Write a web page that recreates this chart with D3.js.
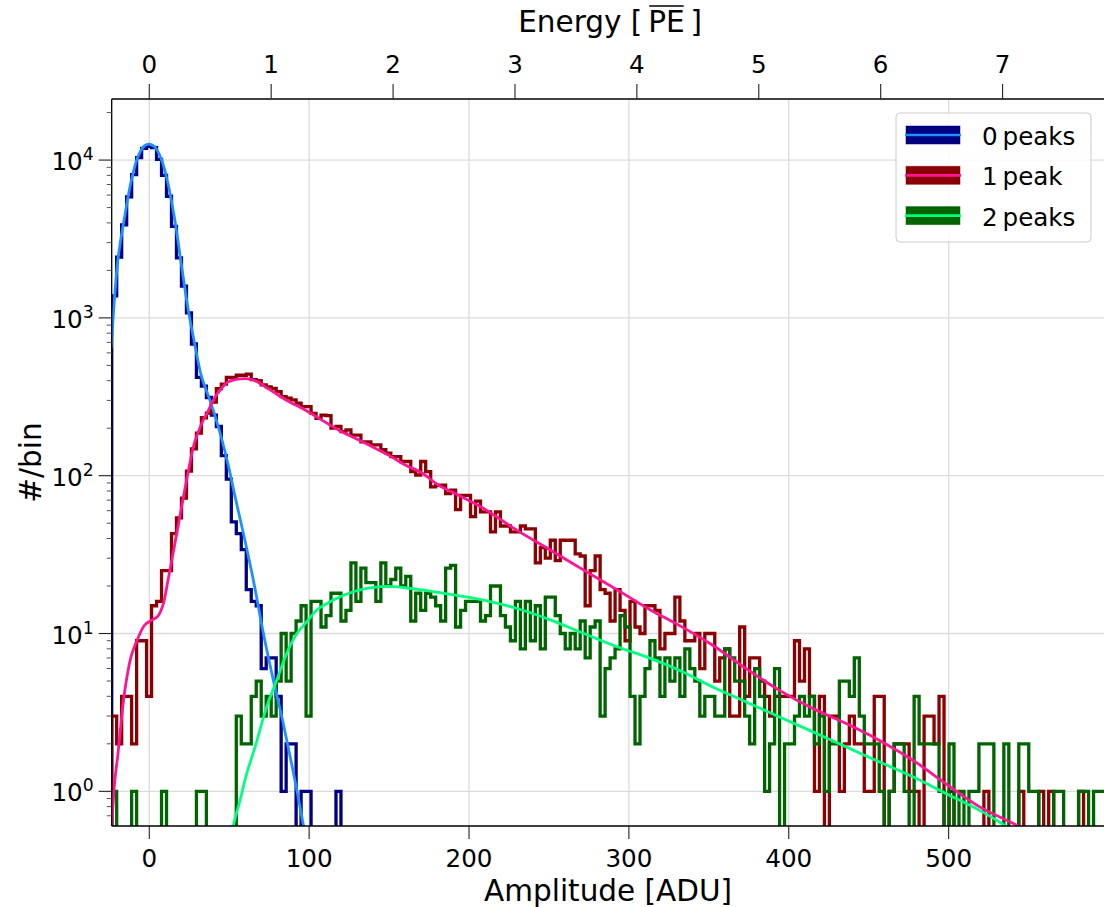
<!DOCTYPE html>
<html><head><meta charset="utf-8">
<script src="https://cdn.jsdelivr.net/npm/d3@7"></script>
<style>
body{margin:0;background:#fff}
svg{display:block}
text{font-family:"DejaVu Sans",sans-serif;fill:#000}
</style>
</head><body>
<svg id="chart" width="1104" height="907"></svg>
<script>
// ---------- data ----------
const xRange = [-23.5, 600];          // ADU, histogram range
const nBins = 200;
const aduPerPE = 76.25;               // calibration for top axis
const yRange = [0.603, 24380];

const blueCounts = [1380,2430,3880,5850,8090,10370,11870,12200,12000,10100,8000,5900,3800,2400,1590,1077,683,420,369,313,242,205,134,95,51,43,34,19,16,15,6,7,7,4,1,2,2,0,1,1,0,0,0,0,0,1].concat(new Array(154).fill(0));

const redCounts = [3,2,4,4,2,9,9,4,15,16,25,25,43,54,72,107,148,186,233,249,293,356,380,419,419,433,433,440,406,400,
376,366,357,341,317,310,302,288,274,274,248,231,242,240,200,205,190,195,181,181,164,164,157,157,146,139,132,132,123,123,106,101,123,106,85,87,87,77,
81,61,75,75,55,69,59,59,44,59,48,48,44,44,48,46,46,28,35,30,39,29,39,39,39,32,31,15,25,31,19,18,12,19,14,9,16,11,10,
15,15,14,8,10,10,17,12,9,9,10,6,10,10,5,7,8,3,3,11,4,7,7,5,4,3,4,4,4,4,9,5,8,4,1,4,0,3,3,1,
2,3,2,2,1,1,4,4,0,1,2,2,2,1,1,0,3,3,2,4,0,1,0,0,0,0,0,0,1,0,0,0,0,0,0,1,0,0,0,1,0,1,0,0,0,0,0,1,0,0,0,0,0];

const greenCounts = [1,0,0,0,1,0,0,0,0,0,1,0,0,0,0,0,0,1,1,0,0,0,0,0,0,3,2,2,4,5,3,4,3,5,10,5,10,12,15,3,16,16,11,13,18,18,12,14,28,16,26,21,21,16,28,20,22,26,20,23,12,18,14,18,17,15,12,26,27,11,14,16,16,16,12,13,20,20,13,11,9,16,8,16,9,15,8,17,17,13,10,8,10,8,12,7,11,12,3,6,7,8,13,11,4,2,4,6,9,7,4,7,5,7,4,8,6,5,3,4,4,3,3,8,7,5,5,3,2,6,4,1,2,6,0,2,2,3,4,3,4,2,3,1,2,2,5,5,4,7,3,2,2,2,1,0,1,2,2,1,0,4,2,2,2,2,1,0,2,0,1,0,1,1,2,2,2,0,0,2,0,0,2,2,1,1,0,0,0,1,1,0,0,0,1,1,0,1,1,1];

// fit curves: [ADU, counts]
const blueFit = [[-23.8,640],[-19.6,2350],[-15.4,4370],[-11.3,7350],[-7.1,10500],[-2.9,12360],[0.25,12600],[3.4,12130],[7.5,10160],[11.7,7110],[15.9,4220],[20.0,2200],[24.2,1150],[28.4,684],[32.6,428],[36.8,324],[41.0,242],[45.1,174],[49.3,118],[53.5,75],[58.9,43],[65.1,21.8],[71.4,10],[77.6,5.07],[82.9,2.97],[88.1,1.66],[92.3,1.02],[96.4,0.61],[99,0.45]];
const redFit = [[-23.5,0.61],[-21.5,1.18],[-19.6,1.72],[-18.3,2.33],[-15.4,4.28],[-11.3,7.18],[-7.1,9.33],[-2.9,11.3],[1.3,12.1],[5.4,12.9],[8.6,15.2],[11.7,21.7],[15.9,36.6],[20.0,61.5],[24.2,104],[28.4,163],[32.6,212],[36.8,257],[41.0,313],[45.1,357],[49.3,393],[53.5,406],[57.6,411],[61.8,411],[66.0,401],[71.0,375],[76.6,345],[87.0,296],[97.5,261],[108.0,225],[118.3,195],[128.8,173],[139.3,153],[149.7,135],[160.1,117],[170.6,104],[181.0,87],[191.4,77],[209.1,62],[230.1,45],[250.9,33.8],[271.8,25.2],[292.7,18.9],[313.5,14.1],[331.2,11.3],[352.2,8.46],[373.0,6.02],[393.9,4.38],[414.8,3.36],[435.6,2.70],[456.5,2.11],[477.4,1.58],[498.2,1.12],[519.1,0.80],[544.1,0.60],[550,0.55]];
const greenFit = [[50,0.45],[52.6,0.61],[56.8,0.88],[61.0,1.30],[66.2,1.91],[73.5,3.44],[79.8,5.07],[86.0,7.49],[92.3,10.0],[98.6,11.9],[104.8,14.1],[111.1,15.5],[119.4,17.1],[127.7,18.4],[136.1,19.3],[144.5,19.8],[152.8,19.8],[160.1,19.5],[170.6,18.9],[181.0,18.2],[191.4,17.5],[209.1,16.3],[230.1,14.4],[250.9,12.2],[271.8,10.0],[292.7,8.24],[313.5,6.96],[331.2,5.87],[352.2,4.60],[373.0,3.70],[393.9,2.97],[414.8,2.39],[435.6,1.92],[456.5,1.54],[477.4,1.24],[498.2,0.97],[519.1,0.76],[534.8,0.61],[540,0.55]];

const xTicks = [0,100,200,300,400,500];
const peTicks = [0,1,2,3,4,5,6,7];
const yTicks = [1,10,100,1000,10000];
const yTickLabels = ["0","1","2","3","4"];
const legendLabels = ["0\u2009peaks","1\u2009peak","2\u2009peaks"];
const histColors = ["#000080","#8b0000","#006400"];
const fitColors = ["#1e90ff","#ff1493","#00ff7f"];

// ---------- layout ----------
const svg = d3.select("#chart");
const L = 111.7, R = 1108.5, T = 99, B = 826;
const x = d3.scaleLinear().domain(xRange).range([L, R]);
const xPE = d3.scaleLinear().domain([xRange[0]/aduPerPE, xRange[1]/aduPerPE]).range([L, R]);
const y = d3.scaleLog().domain(yRange).range([B, T]);

svg.append("defs").append("clipPath").attr("id","clip")
  .append("rect").attr("x",L).attr("y",T).attr("width",R-L).attr("height",B-T);

// grid
const grid = svg.append("g").attr("stroke","#dcdcdc").attr("stroke-width",1.3);
xTicks.forEach(t=>grid.append("line").attr("x1",x(t)).attr("x2",x(t)).attr("y1",T).attr("y2",B));
yTicks.forEach(t=>grid.append("line").attr("x1",L).attr("x2",R).attr("y1",y(t)).attr("y2",y(t)));

// histograms
const binW = (xRange[1]-xRange[0])/nBins;
function stepPoints(counts){
  const pts=[]; const floor=0.05;
  pts.push([xRange[0], floor]);
  counts.forEach((c,i)=>{
    const v = c>0?c:floor;
    pts.push([xRange[0]+i*binW, v]);
    pts.push([xRange[0]+(i+1)*binW, v]);
  });
  pts.push([xRange[1], floor]);
  return pts;
}
const stepLine = d3.line().x(d=>x(d[0])).y(d=>y(d[1]));
const plot = svg.append("g").attr("clip-path","url(#clip)");
[blueCounts, redCounts, greenCounts].forEach((c,k)=>{
  plot.append("path").attr("d", stepLine(stepPoints(c)))
    .attr("fill","none").attr("stroke",histColors[k]).attr("stroke-width",3.3)
    .attr("stroke-linejoin","miter");
});
const fitLine = d3.line().x(d=>x(d[0])).y(d=>y(d[1])).curve(d3.curveCatmullRom.alpha(0.5));
[blueFit, redFit, greenFit].forEach((f,k)=>{
  plot.append("path").attr("d", fitLine(f))
    .attr("fill","none").attr("stroke",fitColors[k]).attr("stroke-width",2.8);
});

// spines
const sp = svg.append("g").attr("stroke","#000").attr("stroke-width",1.3);
sp.append("line").attr("x1",L).attr("x2",L).attr("y1",T).attr("y2",B);
sp.append("line").attr("x1",L).attr("x2",R).attr("y1",B).attr("y2",B);
sp.append("line").attr("x1",L).attr("x2",R).attr("y1",T).attr("y2",T);

// bottom axis
const ax = svg.append("g");
xTicks.forEach(t=>{
  ax.append("line").attr("x1",x(t)).attr("x2",x(t)).attr("y1",B).attr("y2",B+13).attr("stroke","#222").attr("stroke-width",1.1);
  ax.append("text").attr("x",x(t)).attr("y",866.5).attr("text-anchor","middle").attr("font-size",24.6).text(t);
});
ax.append("text").attr("x",(L+R)/2-2).attr("y",901).attr("text-anchor","middle").attr("font-size",29.5).text("Amplitude [ADU]");

// top axis
peTicks.forEach(t=>{
  ax.append("line").attr("x1",xPE(t)).attr("x2",xPE(t)).attr("y1",T).attr("y2",T-15).attr("stroke","#222").attr("stroke-width",1.1);
  ax.append("text").attr("x",xPE(t)).attr("y",73.3).attr("text-anchor","middle").attr("font-size",24.6).text(t);
});
const title = ax.append("text").attr("x",(L+R)/2).attr("y",32.3).attr("text-anchor","middle").attr("font-size",29.5);
title.append("tspan").text("Energy [\u2009");
title.append("tspan").text("PE");
title.append("tspan").text("\u2009]");
// overline over PE
(function(){
  const el = title.node();
  const full = "Energy [\u2009";
  const i0 = full.length;
  const x0 = el.getStartPositionOfChar(i0).x;
  const x1 = el.getEndPositionOfChar(i0+1).x;
  ax.append("line").attr("x1",x0+1).attr("x2",x1-1).attr("y1",6).attr("y2",6).attr("stroke","#000").attr("stroke-width",1.6);
})();

// left axis
yTicks.forEach((t,k)=>{
  ax.append("line").attr("x1",L).attr("x2",L-13).attr("y1",y(t)).attr("y2",y(t)).attr("stroke","#222").attr("stroke-width",1.1);
  const tx = ax.append("text").attr("x",L-18).attr("y",y(t)+10).attr("text-anchor","end").attr("font-size",24.6);
  tx.append("tspan").text("10");
  tx.append("tspan").attr("font-size",17.2).attr("dy",-10).text(yTickLabels[k]);
});
for(let e=-1;e<=4;e++){
  for(let m=2;m<=9;m++){
    const v=m*Math.pow(10,e);
    if(v<yRange[0]||v>yRange[1]) continue;
    ax.append("line").attr("x1",L).attr("x2",L-5).attr("y1",y(v)).attr("y2",y(v)).attr("stroke","#555").attr("stroke-width",1);
  }
}
ax.append("text").attr("transform",`translate(41,${(T+B)/2}) rotate(-90)`).attr("text-anchor","middle").attr("font-size",29.5).text("#/bin");

// legend
const lg = svg.append("g");
lg.append("rect").attr("x",896).attr("y",113).attr("width",195).attr("height",129).attr("rx",4)
  .attr("fill","#fff").attr("fill-opacity",0.85).attr("stroke","#cccccc").attr("stroke-width",1);
legendLabels.forEach((lab,k)=>{
  const yy = 126 + k*40.3;
  lg.append("rect").attr("x",906).attr("y",yy).attr("width",54).attr("height",18)
    .attr("fill",histColors[k]).attr("stroke",histColors[k]).attr("stroke-opacity",0.5).attr("stroke-width",1);
  lg.append("line").attr("x1",905).attr("x2",961).attr("y1",yy+9).attr("y2",yy+9).attr("stroke",fitColors[k]).attr("stroke-width",2.7);
  lg.append("text").attr("x",982).attr("y",yy+19).attr("font-size",24.6).text(lab);
});
</script>
</body></html>
